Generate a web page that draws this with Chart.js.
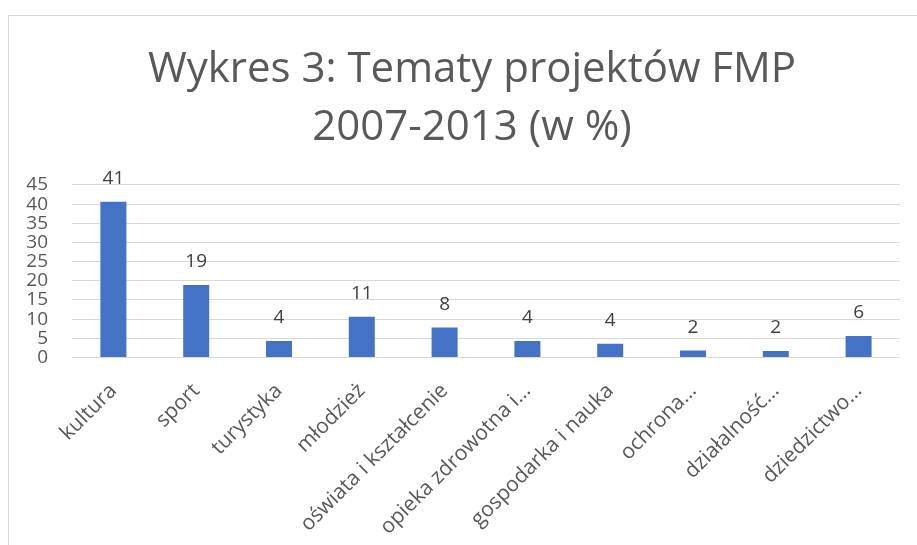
<!DOCTYPE html>
<html lang="pl">
<head>
<meta charset="utf-8">
<title>Wykres 3: Tematy projektów FMP 2007-2013</title>
<script src="https://cdn.jsdelivr.net/npm/chart.js@4/dist/chart.umd.min.js"></script>
<style>
    html, body { margin: 0; padding: 0; background: #fff; overflow: hidden; }
    #ramka {
        position: absolute; left: 8px; top: 15px;
        width: 926px; height: 545px;
        border-top: 1px solid #d9d9d9; border-left: 1px solid #d9d9d9;
    }
    #wykres { display: block; }
</style>
</head>
<body>
<div id="ramka"><canvas id="wykres" width="926" height="545"></canvas></div>
<script>
// --- DANE ---
const tytul = ['Wykres 3: Tematy projektów FMP', '2007-2013 (w %)'];
const kategorie = ['kultura', 'sport', 'turystyka', 'młodzież', 'oświata i kształcenie',
    'opieka zdrowotna i…', 'gospodarka i nauka', 'ochrona…', 'działalność…', 'dziedzictwo…'];
const wartosci = [40.6, 18.9, 4.3, 10.6, 7.8, 4.3, 3.6, 1.8, 1.7, 5.6]; // w %
const osY = { min: 0, max: 45, krok: 5 };

// --- STYL ---
const kolorTekstu = '#595959';
const kolorSlupka = '#4472C4';
const czcionka = '"Open Sans", "Noto Sans", sans-serif';

// etykiety wartości nad słupkami (zaokrąglone, jak w Excelu)
const etykietyPlugin = {
    id: 'etykiety',
    afterDatasetsDraw(chart) {
        const ctx = chart.ctx;
        const meta = chart.getDatasetMeta(0);
        ctx.save();
        ctx.font = '19px ' + czcionka;
        ctx.fillStyle = '#404040';
        ctx.textAlign = 'center';
        ctx.textBaseline = 'alphabetic';
        meta.data.forEach((slupek, i) => {
            ctx.fillText(String(Math.round(wartosci[i])), slupek.x, slupek.y - 18);
        });
        ctx.restore();
    }
};

new Chart(document.getElementById('wykres'), {
    type: 'bar',
    data: {
        labels: kategorie,
        datasets: [{
            data: wartosci,
            backgroundColor: kolorSlupka,
            borderWidth: 0,
            barPercentage: 0.314,
            categoryPercentage: 1
        }]
    },
    options: {
        responsive: false,
        animation: false,
        layout: { padding: 0 },
        plugins: {
            legend: { display: false },
            tooltip: { enabled: false },
            title: {
                display: true,
                text: tytul,
                color: kolorTekstu,
                font: { family: czcionka, size: 42, weight: 'normal', lineHeight: 1.38 },
                padding: { top: 25, bottom: 28 }
            }
        },
        scales: {
            x: {
                grid: { display: false },
                border: { display: false },
                ticks: {
                    color: kolorTekstu,
                    font: { family: czcionka, size: 21 },
                    maxRotation: 45,
                    minRotation: 45,
                    autoSkip: false,
                    padding: 13
                },
                afterFit: (s) => { s.height = 203.5; }
            },
            y: {
                min: osY.min,
                max: osY.max,
                grid: { color: '#d9d9d9', lineWidth: 1, drawTicks: false },
                border: { display: false },
                ticks: {
                    stepSize: osY.krok,
                    autoSkip: false,
                    color: kolorTekstu,
                    font: { family: czcionka, size: 19 },
                    padding: 24
                },
                afterFit: (s) => { s.width = 63; }
            },
            // pusta oś po prawej - tylko margines, tytuł zostaje na środku ramki
            prawa: {
                type: 'linear',
                position: 'right',
                grid: { display: false },
                border: { display: false },
                ticks: { display: false },
                afterFit: (s) => { s.width = 35; }
            }
        }
    },
    plugins: [etykietyPlugin]
});
</script>
</body>
</html>
